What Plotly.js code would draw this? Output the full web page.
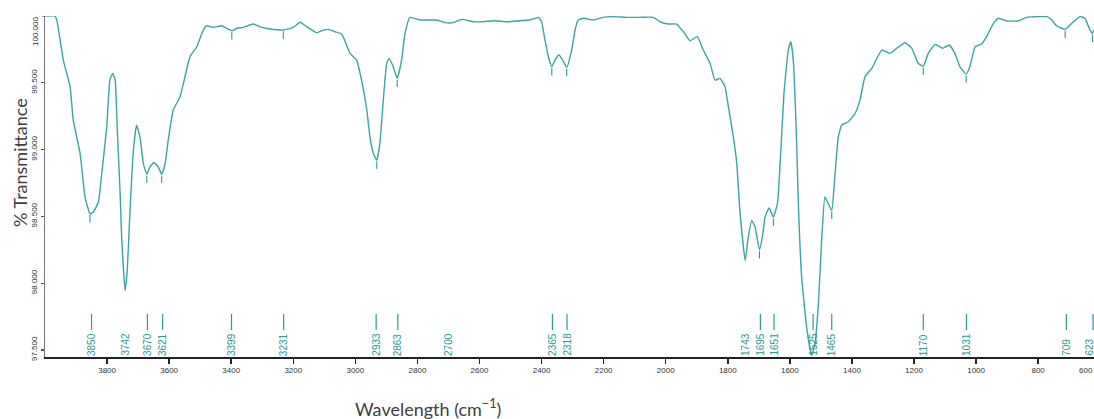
<!DOCTYPE html>
<html>
<head>
<meta charset="utf-8">
<script src="https://cdn.plot.ly/plotly-3.0.1.min.js"></script>
<style>
  html, body { margin: 0; padding: 0; background: #fff; }
  #chart { width: 1094px; height: 419px; }
</style>
</head>
<body>
<div id="chart"></div>
<script>
// ---- Data ----
const wavenumber = [4000,3968,3962,3941,3919,3909,3887,3871,3855,3844,
  3828,3817,3801,3791,3782,3774,3767,3758,3753,3742,
  3735,3726,3716,3705,3694,3683,3672,3662,3649,3635,
  3624,3613,3603,3587,3565,3549,3533,3511,3490,3479,
  3458,3431,3415,3398,3382,3361,3329,3302,3275,3232,
  3200,3178,3157,3125,3108,3087,3066,3044,3017,2996,
  2980,2963,2953,2942,2931,2921,2910,2899,2891,2878,
  2865,2851,2840,2824,2792,2738,2711,2684,2657,2620,
  2588,2550,2512,2469,2437,2410,2400,2389,2378,2367,
  2357,2344,2332,2319,2303,2292,2282,2265,2233,2201,
  2169,2126,2083,2040,2018,1992,1965,1943,1922,1898,
  1879,1857,1841,1825,1809,1798,1782,1771,1761,1744,
  1734,1723,1712,1698,1687,1680,1667,1653,1640,1629,
  1619,1605,1597,1589,1578,1573,1562,1546,1530,1519,
  1508,1497,1487,1476,1465,1455,1444,1433,1412,1390,
  1374,1358,1336,1304,1277,1256,1229,1207,1186,1170,
  1154,1132,1108,1086,1068,1052,1032,1020,1003,982,
  966,944,928,901,864,837,772,756,740,713,
  692,665,649,633,625,620,615];

const transmittance = [100.000,100.000,99.970,99.670,99.470,99.220,98.973,98.645,98.520,98.532,
  98.608,98.823,99.170,99.520,99.570,99.520,99.145,98.673,98.345,97.945,
  98.095,98.545,98.973,99.183,99.095,98.895,98.815,98.870,98.903,98.870,
  98.815,98.895,99.070,99.295,99.395,99.545,99.695,99.770,99.895,99.927,
  99.915,99.927,99.908,99.890,99.908,99.915,99.940,99.915,99.903,99.895,
  99.915,99.953,99.920,99.875,99.890,99.900,99.882,99.865,99.720,99.670,
  99.520,99.295,99.095,98.970,98.920,99.045,99.370,99.645,99.683,99.620,
  99.533,99.670,99.870,99.990,99.970,99.970,99.950,99.950,99.975,99.957,
  99.957,99.965,99.957,99.965,99.970,99.990,99.957,99.820,99.695,99.620,
  99.670,99.708,99.670,99.615,99.745,99.895,99.970,99.983,99.970,99.990,
  99.995,99.990,99.990,99.990,99.957,99.940,99.940,99.882,99.815,99.845,
  99.745,99.645,99.520,99.533,99.470,99.320,99.095,98.895,98.545,98.170,
  98.345,98.470,98.420,98.250,98.370,98.495,98.563,98.495,98.595,98.995,
  99.420,99.745,99.807,99.670,99.045,98.620,98.046,97.671,97.459,97.546,
  97.846,98.345,98.645,98.595,98.545,98.795,99.095,99.183,99.208,99.270,
  99.370,99.545,99.608,99.745,99.720,99.758,99.800,99.758,99.645,99.625,
  99.720,99.788,99.758,99.783,99.720,99.620,99.565,99.620,99.770,99.790,
  99.845,99.945,99.983,99.963,99.963,99.990,99.995,99.970,99.925,99.900,
  99.945,99.995,99.983,99.895,99.870,99.895,99.900];

// Peak annotations (labels along the bottom)
const peakLabels = [3850,3742,3670,3621,3399,3231,2933,2863,2700,2365,2318,1743,1695,1651,1525,1465,1170,1031,709,623];
// Peaks that carry a marker line above the label and a tick under the curve
const peakLines = [3850,3670,3621,3399,3231,2933,2863,2365,2318,1695,1651,1525,1465,1170,1031,709,623];

// Axis ticks
const xTickVals = [3800,3600,3400,3200,3000,2800,2600,2400,2200,2000,1800,1600,1400,1200,1000,800,600];
const yTickVals = [97.5,98.0,98.5,99.0,99.5,100.0];

const xTitle = 'Wavelength (cm<sup>\u22121</sup>)';
const yTitle = '% Transmittance';

// ---- Styling ----
const teal = '#3aa5a2';
const tealDark = '#2a9995';
const lineTop = (357 - 314) / 341;
const lineBot = (357 - 330) / 341;
const tickFont = {family: 'Liberation Sans, Arial, sans-serif', size: 8, color: '#333'};

const shapes = [];
const annotations = [];

peakLines.forEach(p => {
  shapes.push({type: 'line', xref: 'x', yref: 'paper', x0: p, x1: p, y0: lineBot, y1: lineTop,
    line: {color: tealDark, width: 1.2}});
  // tick under the curve minimum near the peak
  let best = null;
  for (let i = 0; i < wavenumber.length; i++) {
    if (Math.abs(wavenumber[i] - p) <= 10) {
      if (best === null || transmittance[i] < transmittance[best]) best = i;
    }
  }
  if (best !== null && transmittance[best] > 97.6) {
    shapes.push({type: 'line', xref: 'x', yref: 'y', x0: wavenumber[best], x1: wavenumber[best],
      y0: transmittance[best] - 0.065, y1: transmittance[best] - 0.01,
      line: {color: tealDark, width: 1.1}});
  }
});

const lastPeak = peakLabels[peakLabels.length - 1];
peakLabels.forEach(p => {
  annotations.push({xref: 'x', yref: 'paper', x: p, y: 0, yanchor: 'bottom', xanchor: 'center',
    xshift: p === lastPeak ? -4 : 0,
    text: String(p), textangle: -90, showarrow: false, borderpad: 0,
    font: {family: 'Liberation Sans, Arial, sans-serif', size: 10, color: tealDark}});
});

// Edge tick labels shifted inside (as in the reference)
const yTop = yTickVals[yTickVals.length - 1];
const xEnd = xTickVals[xTickVals.length - 1];
annotations.push({xref: 'paper', yref: 'y', x: 0, y: yTop, xanchor: 'right', yanchor: 'top', xshift: -4,
  text: yTop.toFixed(3), textangle: -90, showarrow: false, borderpad: 0, font: tickFont});
annotations.push({xref: 'paper', yref: 'paper', x: 1, y: 0, xanchor: 'right', yanchor: 'top',
  xshift: 0, yshift: -8, text: String(xEnd), showarrow: false, borderpad: 0, font: tickFont});
shapes.push({type: 'line', xref: 'paper', yref: 'y', x0: -3 / 1049, x1: 0, y0: yTop, y1: yTop,
  line: {color: '#555', width: 1.2}});

// Axis titles
annotations.push({xref: 'paper', yref: 'paper', x: (428 - 45) / 1049, y: (357 - 408) / 341, xanchor: 'center', yanchor: 'middle',
  text: xTitle, showarrow: false, font: {family: 'Lato, Open Sans, sans-serif', size: 18, color: '#404040'}});
annotations.push({xref: 'paper', yref: 'paper', x: (20 - 45) / 1049, y: (357 - 163) / 341, xanchor: 'center', yanchor: 'middle',
  text: yTitle, textangle: -90, showarrow: false, font: {family: 'Lato, Open Sans, sans-serif', size: 18, color: '#404040'}});

const trace = {
  type: 'scatter', mode: 'lines', x: wavenumber, y: transmittance,
  line: {color: teal, width: 1.4, shape: 'spline', smoothing: 0.4},
  hoverinfo: 'x+y'
};

const xAxisVals = xTickVals.slice(0, -1);
const yAxisVals = yTickVals.slice(0, -1);

const layout = {
  width: 1094, height: 419,
  margin: {l: 45, r: 0, t: 16, b: 62, pad: 0},
  paper_bgcolor: '#ffffff', plot_bgcolor: '#ffffff',
  showlegend: false,
  xaxis: {
    range: [4000, 620], autorange: false,
    tickvals: xAxisVals,
    ticktext: xAxisVals.map(v => String(v)),
    ticks: 'outside', ticklen: 5, tickwidth: 1.5, tickcolor: '#222',
    showline: true, linecolor: '#222', linewidth: 1.5,
    showgrid: false, zeroline: false,
    tickfont: tickFont
  },
  yaxis: {
    range: [97.4475, 100.0], autorange: false,
    tickvals: yAxisVals,
    ticktext: yAxisVals.map(v => v.toFixed(3)),
    tickangle: -90,
    ticks: 'outside', ticklen: 3, tickwidth: 1.2, tickcolor: '#555',
    showline: true, linecolor: '#777', linewidth: 1.5,
    showgrid: false, zeroline: false,
    tickfont: tickFont
  },
  shapes: shapes,
  annotations: annotations
};

Plotly.newPlot('chart', [trace], layout, {displayModeBar: false, staticPlot: true});
</script>
</body>
</html>
